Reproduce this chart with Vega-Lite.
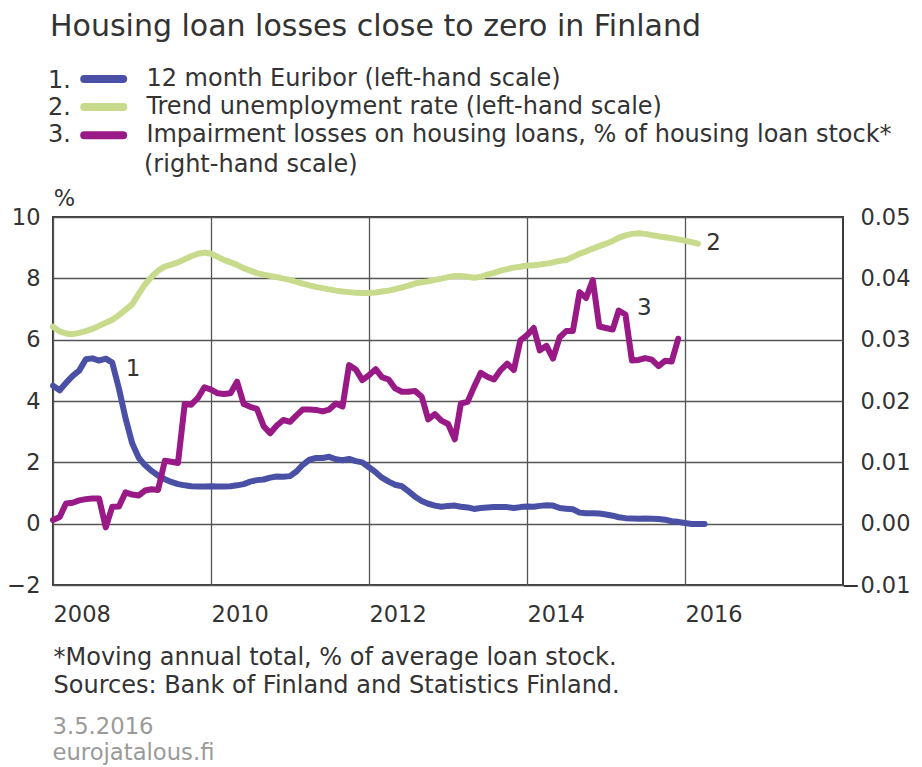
{
  "$schema": "https://vega.github.io/schema/vega-lite/v6.json",
  "width": 790,
  "height": 368,
  "autosize": {"type": "none"},
  "padding": {"left": 53, "top": 217, "right": 79, "bottom": 182},
  "background": "white",
  "config": {
    "font": "DejaVu Sans",
    "view": {"stroke": "#3a3a3a", "strokeWidth": 2},
    "axis": {"labelFont": "DejaVu Sans", "labelFontSize": 22.5, "labelColor": "#333333", "ticks": false, "domain": false, "gridColor": "#555555", "gridWidth": 1.3, "gridOpacity": 1, "titleFont": "DejaVu Sans", "titleFontWeight": "normal", "titleColor": "#333333", "labelFlush": false, "labelOverlap": false, "titleLimit": 2000}
  },
  "title": {"text": "Housing loan losses close to zero in Finland", "anchor": "start", "frame": "group", "fontSize": 30, "fontWeight": "normal", "color": "#333333", "font": "DejaVu Sans", "dx": -3, "dy": -25, "offset": 0},
  "datasets": {
    "series": [
      {"date":"2008-01-01","s":"e","v":4.50},{"date":"2008-02-01","s":"e","v":4.35},{"date":"2008-03-01","s":"e","v":4.59},{"date":"2008-04-01","s":"e","v":4.82},{"date":"2008-05-01","s":"e","v":4.99},{"date":"2008-06-01","s":"e","v":5.36},{"date":"2008-07-01","s":"e","v":5.39},{"date":"2008-08-01","s":"e","v":5.32},{"date":"2008-09-01","s":"e","v":5.38},{"date":"2008-10-01","s":"e","v":5.25},{"date":"2008-11-01","s":"e","v":4.40},{"date":"2008-12-01","s":"e","v":3.45},
      {"date":"2009-01-01","s":"e","v":2.62},{"date":"2009-02-01","s":"e","v":2.14},{"date":"2009-03-01","s":"e","v":1.91},{"date":"2009-04-01","s":"e","v":1.72},{"date":"2009-05-01","s":"e","v":1.57},{"date":"2009-06-01","s":"e","v":1.45},{"date":"2009-07-01","s":"e","v":1.36},{"date":"2009-08-01","s":"e","v":1.29},{"date":"2009-09-01","s":"e","v":1.25},{"date":"2009-10-01","s":"e","v":1.22},{"date":"2009-11-01","s":"e","v":1.21},{"date":"2009-12-01","s":"e","v":1.21},
      {"date":"2010-01-01","s":"e","v":1.22},{"date":"2010-02-01","s":"e","v":1.21},{"date":"2010-03-01","s":"e","v":1.21},{"date":"2010-04-01","s":"e","v":1.22},{"date":"2010-05-01","s":"e","v":1.25},{"date":"2010-06-01","s":"e","v":1.29},{"date":"2010-07-01","s":"e","v":1.37},{"date":"2010-08-01","s":"e","v":1.42},{"date":"2010-09-01","s":"e","v":1.44},{"date":"2010-10-01","s":"e","v":1.50},{"date":"2010-11-01","s":"e","v":1.54},{"date":"2010-12-01","s":"e","v":1.53},
      {"date":"2011-01-01","s":"e","v":1.55},{"date":"2011-02-01","s":"e","v":1.71},{"date":"2011-03-01","s":"e","v":1.92},{"date":"2011-04-01","s":"e","v":2.09},{"date":"2011-05-01","s":"e","v":2.14},{"date":"2011-06-01","s":"e","v":2.14},{"date":"2011-07-01","s":"e","v":2.18},{"date":"2011-08-01","s":"e","v":2.10},{"date":"2011-09-01","s":"e","v":2.07},{"date":"2011-10-01","s":"e","v":2.11},{"date":"2011-11-01","s":"e","v":2.04},{"date":"2011-12-01","s":"e","v":2.00},
      {"date":"2012-01-01","s":"e","v":1.84},{"date":"2012-02-01","s":"e","v":1.68},{"date":"2012-03-01","s":"e","v":1.50},{"date":"2012-04-01","s":"e","v":1.37},{"date":"2012-05-01","s":"e","v":1.27},{"date":"2012-06-01","s":"e","v":1.22},{"date":"2012-07-01","s":"e","v":1.06},{"date":"2012-08-01","s":"e","v":0.88},{"date":"2012-09-01","s":"e","v":0.74},{"date":"2012-10-01","s":"e","v":0.65},{"date":"2012-11-01","s":"e","v":0.59},{"date":"2012-12-01","s":"e","v":0.55},
      {"date":"2013-01-01","s":"e","v":0.58},{"date":"2013-02-01","s":"e","v":0.59},{"date":"2013-03-01","s":"e","v":0.55},{"date":"2013-04-01","s":"e","v":0.53},{"date":"2013-05-01","s":"e","v":0.48},{"date":"2013-06-01","s":"e","v":0.51},{"date":"2013-07-01","s":"e","v":0.53},{"date":"2013-08-01","s":"e","v":0.54},{"date":"2013-09-01","s":"e","v":0.54},{"date":"2013-10-01","s":"e","v":0.54},{"date":"2013-11-01","s":"e","v":0.51},{"date":"2013-12-01","s":"e","v":0.54},
      {"date":"2014-01-01","s":"e","v":0.56},{"date":"2014-02-01","s":"e","v":0.55},{"date":"2014-03-01","s":"e","v":0.58},{"date":"2014-04-01","s":"e","v":0.60},{"date":"2014-05-01","s":"e","v":0.59},{"date":"2014-06-01","s":"e","v":0.51},{"date":"2014-07-01","s":"e","v":0.49},{"date":"2014-08-01","s":"e","v":0.47},{"date":"2014-09-01","s":"e","v":0.36},{"date":"2014-10-01","s":"e","v":0.34},{"date":"2014-11-01","s":"e","v":0.34},{"date":"2014-12-01","s":"e","v":0.33},
      {"date":"2015-01-01","s":"e","v":0.30},{"date":"2015-02-01","s":"e","v":0.26},{"date":"2015-03-01","s":"e","v":0.21},{"date":"2015-04-01","s":"e","v":0.18},{"date":"2015-05-01","s":"e","v":0.17},{"date":"2015-06-01","s":"e","v":0.16},{"date":"2015-07-01","s":"e","v":0.17},{"date":"2015-08-01","s":"e","v":0.16},{"date":"2015-09-01","s":"e","v":0.15},{"date":"2015-10-01","s":"e","v":0.13},{"date":"2015-11-01","s":"e","v":0.08},{"date":"2015-12-01","s":"e","v":0.06},
      {"date":"2016-01-01","s":"e","v":0.02},{"date":"2016-02-01","s":"e","v":-0.01},{"date":"2016-03-01","s":"e","v":-0.01},{"date":"2016-04-01","s":"e","v":-0.01},
      {"date":"2008-01-01","s":"u","v":6.42},{"date":"2008-02-01","s":"u","v":6.27},{"date":"2008-03-01","s":"u","v":6.20},{"date":"2008-04-01","s":"u","v":6.18},{"date":"2008-05-01","s":"u","v":6.22},{"date":"2008-06-01","s":"u","v":6.28},{"date":"2008-07-01","s":"u","v":6.35},{"date":"2008-08-01","s":"u","v":6.45},{"date":"2008-09-01","s":"u","v":6.55},{"date":"2008-10-01","s":"u","v":6.65},{"date":"2008-11-01","s":"u","v":6.80},{"date":"2008-12-01","s":"u","v":6.97},
      {"date":"2009-01-01","s":"u","v":7.15},{"date":"2009-02-01","s":"u","v":7.50},{"date":"2009-03-01","s":"u","v":7.80},{"date":"2009-04-01","s":"u","v":8.05},{"date":"2009-05-01","s":"u","v":8.25},{"date":"2009-06-01","s":"u","v":8.38},{"date":"2009-07-01","s":"u","v":8.45},{"date":"2009-08-01","s":"u","v":8.52},{"date":"2009-09-01","s":"u","v":8.62},{"date":"2009-10-01","s":"u","v":8.72},{"date":"2009-11-01","s":"u","v":8.80},{"date":"2009-12-01","s":"u","v":8.84},
      {"date":"2010-01-01","s":"u","v":8.80},{"date":"2010-02-01","s":"u","v":8.70},{"date":"2010-03-01","s":"u","v":8.60},{"date":"2010-04-01","s":"u","v":8.52},{"date":"2010-05-01","s":"u","v":8.44},{"date":"2010-06-01","s":"u","v":8.33},{"date":"2010-07-01","s":"u","v":8.25},{"date":"2010-08-01","s":"u","v":8.17},{"date":"2010-09-01","s":"u","v":8.12},{"date":"2010-10-01","s":"u","v":8.08},{"date":"2010-11-01","s":"u","v":8.04},{"date":"2010-12-01","s":"u","v":7.99},
      {"date":"2011-01-01","s":"u","v":7.95},{"date":"2011-02-01","s":"u","v":7.88},{"date":"2011-03-01","s":"u","v":7.83},{"date":"2011-04-01","s":"u","v":7.77},{"date":"2011-05-01","s":"u","v":7.72},{"date":"2011-06-01","s":"u","v":7.68},{"date":"2011-07-01","s":"u","v":7.64},{"date":"2011-08-01","s":"u","v":7.60},{"date":"2011-09-01","s":"u","v":7.57},{"date":"2011-10-01","s":"u","v":7.55},{"date":"2011-11-01","s":"u","v":7.53},{"date":"2011-12-01","s":"u","v":7.52},
      {"date":"2012-01-01","s":"u","v":7.52},{"date":"2012-02-01","s":"u","v":7.54},{"date":"2012-03-01","s":"u","v":7.57},{"date":"2012-04-01","s":"u","v":7.60},{"date":"2012-05-01","s":"u","v":7.65},{"date":"2012-06-01","s":"u","v":7.70},{"date":"2012-07-01","s":"u","v":7.76},{"date":"2012-08-01","s":"u","v":7.83},{"date":"2012-09-01","s":"u","v":7.87},{"date":"2012-10-01","s":"u","v":7.90},{"date":"2012-11-01","s":"u","v":7.95},{"date":"2012-12-01","s":"u","v":7.99},
      {"date":"2013-01-01","s":"u","v":8.04},{"date":"2013-02-01","s":"u","v":8.08},{"date":"2013-03-01","s":"u","v":8.08},{"date":"2013-04-01","s":"u","v":8.05},{"date":"2013-05-01","s":"u","v":8.02},{"date":"2013-06-01","s":"u","v":8.05},{"date":"2013-07-01","s":"u","v":8.12},{"date":"2013-08-01","s":"u","v":8.18},{"date":"2013-09-01","s":"u","v":8.25},{"date":"2013-10-01","s":"u","v":8.30},{"date":"2013-11-01","s":"u","v":8.35},{"date":"2013-12-01","s":"u","v":8.38},
      {"date":"2014-01-01","s":"u","v":8.42},{"date":"2014-02-01","s":"u","v":8.43},{"date":"2014-03-01","s":"u","v":8.45},{"date":"2014-04-01","s":"u","v":8.48},{"date":"2014-05-01","s":"u","v":8.52},{"date":"2014-06-01","s":"u","v":8.57},{"date":"2014-07-01","s":"u","v":8.60},{"date":"2014-08-01","s":"u","v":8.70},{"date":"2014-09-01","s":"u","v":8.80},{"date":"2014-10-01","s":"u","v":8.88},{"date":"2014-11-01","s":"u","v":8.97},{"date":"2014-12-01","s":"u","v":9.05},
      {"date":"2015-01-01","s":"u","v":9.13},{"date":"2015-02-01","s":"u","v":9.22},{"date":"2015-03-01","s":"u","v":9.32},{"date":"2015-04-01","s":"u","v":9.40},{"date":"2015-05-01","s":"u","v":9.45},{"date":"2015-06-01","s":"u","v":9.47},{"date":"2015-07-01","s":"u","v":9.45},{"date":"2015-08-01","s":"u","v":9.41},{"date":"2015-09-01","s":"u","v":9.37},{"date":"2015-10-01","s":"u","v":9.34},{"date":"2015-11-01","s":"u","v":9.31},{"date":"2015-12-01","s":"u","v":9.27},
      {"date":"2016-01-01","s":"u","v":9.23},{"date":"2016-02-01","s":"u","v":9.18},{"date":"2016-03-01","s":"u","v":9.13},
      {"date":"2008-01-01","s":"i","v":0.0006},{"date":"2008-02-01","s":"i","v":0.0011},{"date":"2008-03-01","s":"i","v":0.0033},{"date":"2008-04-01","s":"i","v":0.0034},{"date":"2008-05-01","s":"i","v":0.0038},{"date":"2008-06-01","s":"i","v":0.0040},{"date":"2008-07-01","s":"i","v":0.0041},{"date":"2008-08-01","s":"i","v":0.0041},{"date":"2008-09-01","s":"i","v":-0.0006},{"date":"2008-10-01","s":"i","v":0.00275},{"date":"2008-11-01","s":"i","v":0.0028},{"date":"2008-12-01","s":"i","v":0.0051},
      {"date":"2009-01-01","s":"i","v":0.00475},{"date":"2009-02-01","s":"i","v":0.0046},{"date":"2009-03-01","s":"i","v":0.0054},{"date":"2009-04-01","s":"i","v":0.0056},{"date":"2009-05-01","s":"i","v":0.0055},{"date":"2009-06-01","s":"i","v":0.01025},{"date":"2009-07-01","s":"i","v":0.0101},{"date":"2009-08-01","s":"i","v":0.0099},{"date":"2009-09-01","s":"i","v":0.0195},{"date":"2009-10-01","s":"i","v":0.0194},{"date":"2009-11-01","s":"i","v":0.0205},{"date":"2009-12-01","s":"i","v":0.02225},
      {"date":"2010-01-01","s":"i","v":0.02185},{"date":"2010-02-01","s":"i","v":0.02125},{"date":"2010-03-01","s":"i","v":0.02115},{"date":"2010-04-01","s":"i","v":0.02125},{"date":"2010-05-01","s":"i","v":0.02315},{"date":"2010-06-01","s":"i","v":0.0195},{"date":"2010-07-01","s":"i","v":0.01905},{"date":"2010-08-01","s":"i","v":0.0187},{"date":"2010-09-01","s":"i","v":0.0159},{"date":"2010-10-01","s":"i","v":0.01475},{"date":"2010-11-01","s":"i","v":0.016},{"date":"2010-12-01","s":"i","v":0.0169},
      {"date":"2011-01-01","s":"i","v":0.0166},{"date":"2011-02-01","s":"i","v":0.0177},{"date":"2011-03-01","s":"i","v":0.0186},{"date":"2011-04-01","s":"i","v":0.0186},{"date":"2011-05-01","s":"i","v":0.01855},{"date":"2011-06-01","s":"i","v":0.0183},{"date":"2011-07-01","s":"i","v":0.0186},{"date":"2011-08-01","s":"i","v":0.0196},{"date":"2011-09-01","s":"i","v":0.0191},{"date":"2011-10-01","s":"i","v":0.02585},{"date":"2011-11-01","s":"i","v":0.02515},{"date":"2011-12-01","s":"i","v":0.0234},
      {"date":"2012-01-01","s":"i","v":0.0242},{"date":"2012-02-01","s":"i","v":0.0252},{"date":"2012-03-01","s":"i","v":0.0239},{"date":"2012-04-01","s":"i","v":0.0235},{"date":"2012-05-01","s":"i","v":0.02205},{"date":"2012-06-01","s":"i","v":0.0215},{"date":"2012-07-01","s":"i","v":0.0215},{"date":"2012-08-01","s":"i","v":0.02165},{"date":"2012-09-01","s":"i","v":0.0207},{"date":"2012-10-01","s":"i","v":0.017},{"date":"2012-11-01","s":"i","v":0.01785},{"date":"2012-12-01","s":"i","v":0.0168},
      {"date":"2013-01-01","s":"i","v":0.01625},{"date":"2013-02-01","s":"i","v":0.01375},{"date":"2013-03-01","s":"i","v":0.0196},{"date":"2013-04-01","s":"i","v":0.01985},{"date":"2013-05-01","s":"i","v":0.0223},{"date":"2013-06-01","s":"i","v":0.0246},{"date":"2013-07-01","s":"i","v":0.02395},{"date":"2013-08-01","s":"i","v":0.0235},{"date":"2013-09-01","s":"i","v":0.02505},{"date":"2013-10-01","s":"i","v":0.0261},{"date":"2013-11-01","s":"i","v":0.02505},{"date":"2013-12-01","s":"i","v":0.0299},
      {"date":"2014-01-01","s":"i","v":0.03075},{"date":"2014-02-01","s":"i","v":0.0319},{"date":"2014-03-01","s":"i","v":0.02825},{"date":"2014-04-01","s":"i","v":0.029},{"date":"2014-05-01","s":"i","v":0.0269},{"date":"2014-06-01","s":"i","v":0.0304},{"date":"2014-07-01","s":"i","v":0.0314},{"date":"2014-08-01","s":"i","v":0.0314},{"date":"2014-09-01","s":"i","v":0.03775},{"date":"2014-10-01","s":"i","v":0.0368},{"date":"2014-11-01","s":"i","v":0.0397},{"date":"2014-12-01","s":"i","v":0.03215},
      {"date":"2015-01-01","s":"i","v":0.0319},{"date":"2015-02-01","s":"i","v":0.03165},{"date":"2015-03-01","s":"i","v":0.03475},{"date":"2015-04-01","s":"i","v":0.0341},{"date":"2015-05-01","s":"i","v":0.0266},{"date":"2015-06-01","s":"i","v":0.0267},{"date":"2015-07-01","s":"i","v":0.027},{"date":"2015-08-01","s":"i","v":0.02675},{"date":"2015-09-01","s":"i","v":0.0257},{"date":"2015-10-01","s":"i","v":0.02655},{"date":"2015-11-01","s":"i","v":0.02645},{"date":"2015-12-01","s":"i","v":0.03015}
    ],
    "labels": [
      {"date":"2009-01-05","v":5.03,"label":"1"},
      {"date":"2016-05-12","v":9.15,"label":"2"},
      {"date":"2015-06-27","v":0.0351,"label":"3"}
    ]
  },
  "layer": [
    {
      "layer": [
        {
          "data": {"name": "series"},
          "transform": [{"filter": "datum.s != 'i'"}],
          "mark": {"type": "line", "strokeWidth": 6, "strokeCap": "round", "strokeJoin": "round"},
          "encoding": {
            "x": {"field": "date", "type": "temporal", "scale": {"domain": [{"year": 2008, "month": 1, "date": 1, "utc": true}, {"year": 2018, "month": 1, "date": 1, "utc": true}]},
              "axis": {"values": [{"year": 2008, "utc": true}, {"year": 2010, "utc": true}, {"year": 2012, "utc": true}, {"year": 2014, "utc": true}, {"year": 2016, "utc": true}], "format": "%Y", "formatType": "utc", "labelAlign": "left", "labelBaseline": "top", "labelPadding": 18, "grid": true,
                "title": ["*Moving annual total, % of average loan stock.", "Sources: Bank of Finland and Statistics Finland."],
                "titleX": 0, "titleY": 60, "titleAnchor": "start", "titleAlign": "left", "titleBaseline": "top", "titleFontSize": 24, "titleLineHeight": 28}},
            "y": {"field": "v", "type": "quantitative", "scale": {"domain": [-2, 10], "nice": false, "zero": false},
              "axis": {"values": [-2, 0, 2, 4, 6, 8, 10], "grid": true, "labelPadding": 13, "title": "%", "titleAngle": 0, "titleX": 11, "titleY": -19, "titleAlign": "center", "titleBaseline": "middle", "titleFontSize": 22.5}},
            "color": {"field": "s", "type": "nominal", "scale": {"domain": ["e", "u", "i"], "range": ["#4a50a6", "#c8da8b", "#991a86"]},
              "legend": {"orient": "none", "legendX": 38.7, "legendY": -150, "title": null, "symbolType": "M-2.5,0H2.5", "symbolSize": 243, "symbolStrokeWidth": 8, "labelFontSize": 24, "labelColor": "#333333", "labelFont": "DejaVu Sans", "labelLimit": 2000, "labelOffset": 30.7, "rowPadding": -3.9, "padding": 0, "labelBaseline": "middle",
                "labelExpr": "datum.label == 'e' ? '12 month Euribor (left-hand scale)' : datum.label == 'u' ? 'Trend unemployment rate (left-hand scale)' : 'Impairment losses on housing loans, % of housing loan stock*'",
                "encode": {"symbols": {"update": {"strokeCap": {"value": "round"}}}}}}
          }
        },
        {
          "data": {"name": "labels"},
          "transform": [{"filter": "datum.label != '3'"}],
          "mark": {"type": "text", "fontSize": 23, "color": "#333333", "align": "center", "baseline": "middle"},
          "encoding": {
            "x": {"field": "date", "type": "temporal"},
            "y": {"field": "v", "type": "quantitative"},
            "text": {"field": "label"},
            "opacity": {"field": "label", "type": "ordinal", "scale": {"domain": ["1", "2", "3"], "range": [1, 1]},
              "legend": {"orient": "none", "legendX": -29, "legendY": -148, "title": null, "symbolType": "M0,0", "symbolSize": 1, "symbolStrokeWidth": 0, "symbolFillColor": "transparent", "symbolStrokeColor": "transparent", "labelFontSize": 24, "labelColor": "#333333", "labelExpr": "datum.label + '.'", "labelOffset": 0, "rowPadding": 2.8, "padding": 0,
                "encode": {"symbols": {"update": {"opacity": {"value": 0}, "fill": {"value": "transparent"}, "stroke": {"value": "transparent"}}}}}}
          }
        }
      ]
    },
    {
      "layer": [
        {
          "data": {"name": "series"},
          "transform": [{"filter": "datum.s == 'i'"}],
          "mark": {"type": "line", "strokeCap": "round", "strokeJoin": "round"},
          "encoding": {
            "x": {"field": "date", "type": "temporal"},
            "y": {"field": "v", "type": "quantitative", "scale": {"domain": [-0.01, 0.05], "nice": false, "zero": false},
              "axis": {"orient": "right", "values": [-0.01, 0, 0.01, 0.02, 0.03, 0.04, 0.05], "format": ".2f", "grid": false, "labelAlign": "right", "labelPadding": 67,
                "title": ["3.5.2016", "eurojatalous.fi"], "titleAngle": 0, "titleX": -791, "titleY": 498, "titleAlign": "left", "titleBaseline": "top", "titleColor": "#9a9a9a", "titleFontSize": 22.7, "titleLineHeight": 26}},
            "color": {"field": "s", "type": "nominal"},
            "strokeWidth": {"field": "s", "type": "ordinal", "scale": {"domain": ["i"], "range": [6, 6]},
              "legend": {"orient": "none", "legendX": 67, "legendY": -64, "title": null, "symbolType": "M0,0", "symbolSize": 1, "symbolStrokeColor": "transparent", "symbolFillColor": "transparent", "labelFontSize": 24, "labelColor": "#333333", "labelLimit": 1000, "labelExpr": "'(right-hand scale)'", "labelOffset": 0, "padding": 0,
                "encode": {"symbols": {"update": {"opacity": {"value": 0}, "stroke": {"value": "transparent"}, "fill": {"value": "transparent"}}}}}}
          }
        },
        {
          "data": {"name": "labels"},
          "transform": [{"filter": "datum.label == '3'"}],
          "mark": {"type": "text", "fontSize": 23, "color": "#333333", "align": "center", "baseline": "middle"},
          "encoding": {
            "x": {"field": "date", "type": "temporal"},
            "y": {"field": "v", "type": "quantitative"},
            "text": {"field": "label"},
            "opacity": {"field": "label", "type": "ordinal"}
          }
        }
      ]
    }
  ],
  "resolve": {"scale": {"y": "independent"}}
}
